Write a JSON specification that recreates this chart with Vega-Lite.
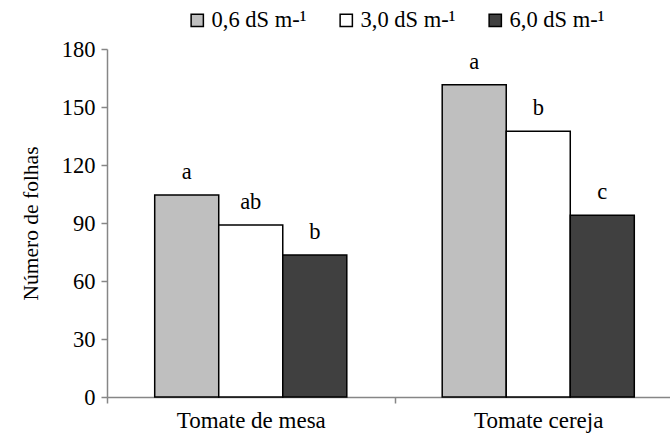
{
  "$schema": "https://vega.github.io/schema/vega-lite/v6.json",
  "autosize": {"type": "none"},
  "padding": {"left": 107, "top": 49, "right": 0, "bottom": 41},
  "width": 563,
  "height": 348,
  "background": "white",
  "config": {
    "font": "Liberation Serif, DejaVu Serif, serif",
    "view": {"stroke": null},
    "text": {"font": "Liberation Serif, DejaVu Serif, serif"},
    "axis": {"labelFont": "Liberation Serif, DejaVu Serif, serif", "titleFont": "Liberation Serif, DejaVu Serif, serif", "labelColor": "black", "titleColor": "black", "domainColor": "#868686", "tickColor": "#868686", "domainWidth": 1.5, "tickWidth": 1.5, "grid": false},
    "legend": {"labelFont": "Liberation Serif, DejaVu Serif, serif"}
  },
  "data": {
    "values": [
      {"cultivar": "Tomate de mesa", "trat": "0,6 dS m-¹", "valor": 104.5, "letra": "a"},
      {"cultivar": "Tomate de mesa", "trat": "3,0 dS m-¹", "valor": 89, "letra": "ab"},
      {"cultivar": "Tomate de mesa", "trat": "6,0 dS m-¹", "valor": 73.5, "letra": "b"},
      {"cultivar": "Tomate cereja", "trat": "0,6 dS m-¹", "valor": 161.5, "letra": "a"},
      {"cultivar": "Tomate cereja", "trat": "3,0 dS m-¹", "valor": 137.5, "letra": "b"},
      {"cultivar": "Tomate cereja", "trat": "6,0 dS m-¹", "valor": 94, "letra": "c"}
    ]
  },
  "encoding": {
    "x": {
      "field": "cultivar", "type": "nominal", "sort": ["Tomate de mesa", "Tomate cereja"],
      "scale": {"range": [0, 575], "paddingInner": 0, "paddingOuter": 0},
      "axis": {"title": null, "labelAngle": 0, "labelFontSize": 23, "tickBand": "extent", "tickSize": 6, "labelPadding": 6}
    },
    "xOffset": {
      "field": "trat", "type": "nominal",
      "scale": {"paddingInner": 0, "paddingOuter": 0.745}
    },
    "y": {
      "field": "valor", "type": "quantitative",
      "scale": {"domain": [0, 180], "nice": false},
      "axis": {"title": "Número de folhas", "values": [0, 30, 60, 90, 120, 150, 180], "labelFontSize": 22.5, "titleFontSize": 21.5, "titleFontWeight": "normal", "tickSize": 6, "labelPadding": 6, "titlePadding": 19}
    }
  },
  "layer": [
    {
      "mark": {"type": "bar", "stroke": "black", "strokeWidth": 1.5},
      "encoding": {
        "fill": {
          "field": "trat", "type": "nominal",
          "scale": {"domain": ["0,6 dS m-¹", "3,0 dS m-¹", "6,0 dS m-¹"], "range": ["#BFBFBF", "#FFFFFF", "#404040"]},
          "legend": {"title": null, "orient": "none", "direction": "horizontal", "legendX": 79, "legendY": -40, "symbolType": "square", "symbolSize": 150, "symbolStrokeColor": "black", "symbolStrokeWidth": 1.5, "labelFontSize": 22.5, "labelColor": "black", "labelOffset": 3, "columnPadding": 28}
        }
      }
    },
    {
      "mark": {"type": "text", "fontSize": 22.5, "color": "black", "baseline": "alphabetic", "dy": -16, "font": "Liberation Serif, DejaVu Serif, serif"},
      "encoding": {"text": {"field": "letra"}}
    }
  ]
}
